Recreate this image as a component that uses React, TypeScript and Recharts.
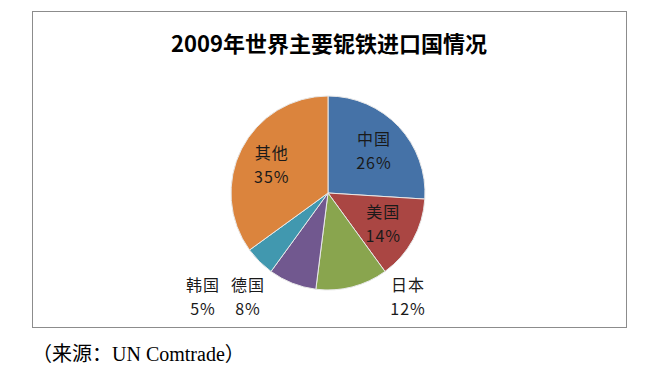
import React from 'react';
import { PieChart, Pie, Cell } from 'recharts';

const countries = ['中国', '美国', '日本', '德国', '韩国', '其他'];
const shares = [26, 14, 12, 8, 5, 35];
const colors = ['#4572A7', '#AA4643', '#89A54E', '#71588F', '#4198AF', '#DB843D'];
const labelOutside = [false, false, true, true, true, false];

const data = countries.map((name, i) => ({ name, value: shares[i] }));

const RAD = Math.PI / 180;

const renderLabel = (props: any) => {
  const { cx, cy, midAngle, outerRadius, index, name, percent } = props;
  let x: number;
  let y: number;
  if (labelOutside[index]) {
    // bottom labels sit in a row under the pie
    const cos = Math.cos(-midAngle * RAD);
    y = cy + outerRadius + 6;
    if (cos > 0) x = cx + 80;
    else if (cos > -0.5) x = cx - 80;
    else x = cx - 125;
  } else {
    const r = outerRadius * 0.65;
    x = cx + r * Math.cos(-midAngle * RAD);
    y = cy + r * Math.sin(-midAngle * RAD);
  }
  return (
    <text
      x={x}
      y={y}
      textAnchor="middle"
      fill="#1a1a1a"
      fontSize={16}
      letterSpacing={1}
      fontFamily='"Noto Sans CJK SC", sans-serif'
    >
      <tspan x={x} dy={-5}>{name}</tspan>
      <tspan x={x} dy={24}>{`${Math.round(percent * 100)}%`}</tspan>
    </text>
  );
};

export default function App() {
  return (
    <div style={{ position: 'absolute', left: 0, top: 0, width: 652, height: 372, background: '#fff' }}>
      <div
        style={{
          position: 'absolute',
          left: 32,
          top: 11,
          width: 593,
          height: 315,
          border: '1px solid #8c8c8c',
        }}
      />
      <div
        style={{
          position: 'absolute',
          left: 32,
          top: 27,
          width: 594,
          textAlign: 'center',
          fontFamily: '"Noto Sans CJK SC", sans-serif',
          fontWeight: 'bold',
          fontSize: 22,
          lineHeight: '30px',
          color: '#000',
        }}
      >
        2009年世界主要铌铁进口国情况
      </div>
      <div style={{ position: 'absolute', left: 0, top: 0 }}>
        <PieChart width={652} height={372}>
          <Pie
            data={data}
            dataKey="value"
            nameKey="name"
            cx={323}
            cy={188}
            outerRadius={97}
            startAngle={90}
            endAngle={-270}
            stroke="#e8e8e8"
            strokeWidth={1}
            label={renderLabel}
            labelLine={false}
            isAnimationActive={false}
          >
            {data.map((d, i) => (
              <Cell key={d.name} fill={colors[i]} />
            ))}
          </Pie>
        </PieChart>
      </div>
      <div
        style={{
          position: 'absolute',
          left: 32,
          top: 341,
          fontFamily: '"Liberation Serif", "Noto Sans CJK SC", serif',
          fontSize: 20,
          lineHeight: '26px',
          color: '#000',
        }}
      >
        （来源：UN Comtrade）
      </div>
    </div>
  );
}
